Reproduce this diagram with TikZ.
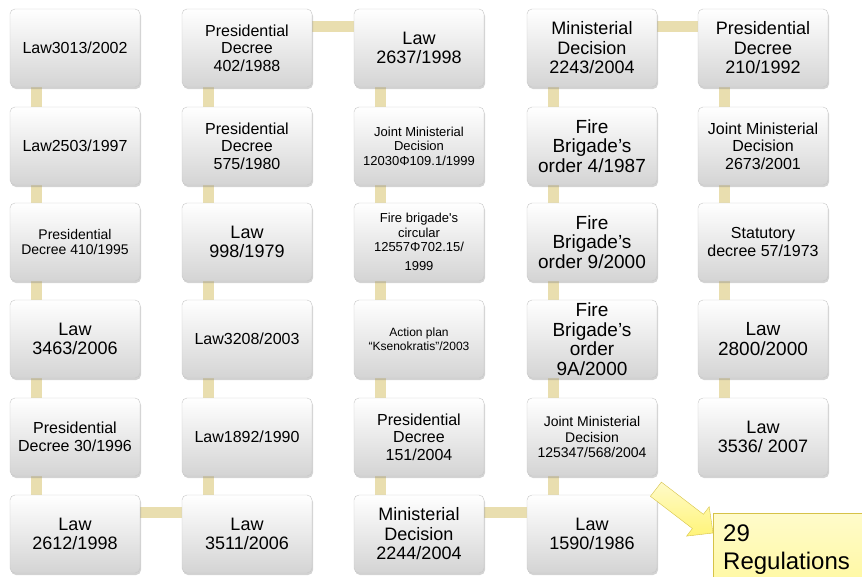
\documentclass[tikz,border=0pt]{standalone}
\usepackage{fontspec}
\setmainfont{Liberation Sans}
\usepackage{tikz}
\tikzset{>=latex}
\usetikzlibrary{calc,shadows,backgrounds}

\definecolor{linktan}{RGB}{233,222,175}
\definecolor{boxgray}{RGB}{212,212,212}
\definecolor{regyellow}{RGB}{255,248,160}
\definecolor{arrowyellow}{RGB}{255,244,120}
\definecolor{regedge}{RGB}{214,194,72}

\tikzset{
  regbox/.style={rectangle, rounded corners=5pt, draw=black!22, top color=white, bottom color=boxgray,
    minimum width=130pt, minimum height=78pt, inner sep=2pt, align=center,
    drop shadow={shadow xshift=1pt, shadow yshift=-2pt, opacity=0.35}},
  link/.style={draw=linktan, line width=11pt},
  regnote/.style={rectangle, draw=regedge, top color=regyellow!55!white, bottom color=regyellow,
    text width=150pt, inner xsep=10pt, inner ysep=12pt, align=left, font=\fontsize{24}{28}\selectfont},
  regarrow/.style={draw=regedge, line join=miter, top color=arrowyellow!40!white, bottom color=arrowyellow},
  f12/.style={font=\fontsize{12}{13.5}\selectfont},
  f13/.style={font=\fontsize{13}{14.5}\selectfont},
  f14/.style={font=\fontsize{14}{15.5}\selectfont},
  f16/.style={font=\fontsize{16}{17.5}\selectfont},
  f18/.style={font=\fontsize{18}{19.5}\selectfont},
  f19/.style={font=\fontsize{19}{19.5}\selectfont}
}

\begin{document}
\begin{tikzpicture}[x=1pt,y=-1pt]
  \useasboundingbox (0,0) rectangle (862,576);
  \clip (0,0) rectangle (862,576);

  % first column
  \node[regbox,f16] (c1r1) at (75,48) {Law3013/2002};
  \node[regbox,f16] (c1r2) at (75,146) {Law2503/1997};
  \node[regbox,f14] (c1r3) at (75,242) {Presidential\\Decree 410/1995};
  \node[regbox,f18] (c1r4) at (75,339) {Law\\3463/2006};
  \node[regbox,f16] (c1r5) at (75,437) {Presidential\\Decree 30/1996};
  \node[regbox,f18] (c1r6) at (75,534) {Law\\2612/1998};

  % second column
  \node[regbox,f16] (c2r1) at (247,48) {Presidential\\Decree\\402/1988};
  \node[regbox,f16] (c2r2) at (247,146) {Presidential\\Decree\\575/1980};
  \node[regbox,f18] (c2r3) at (247,242) {Law\\998/1979};
  \node[regbox,f16] (c2r4) at (247,339) {Law3208/2003};
  \node[regbox,f16] (c2r5) at (247,437) {Law1892/1990};
  \node[regbox,f18] (c2r6) at (247,534) {Law\\3511/2006};

  % third column
  \node[regbox,f18] (c3r1) at (419,48) {Law\\2637/1998};
  \node[regbox,f13] (c3r2) at (419,146) {Joint Ministerial\\Decision\\12030Φ109.1/1999};
  \node[regbox,f13] (c3r3) at (419,242) {Fire brigade\textquotesingle s\\circular\\12557Φ702.15/\\[4pt]1999};
  \node[regbox,f12] (c3r4) at (419,339) {Action plan\\“Ksenokratis”/2003};
  \node[regbox,f16] (c3r5) at (419,437) {Presidential\\Decree\\151/2004};
  \node[regbox,f18] (c3r6) at (419,534) {Ministerial\\Decision\\2244/2004};

  % fourth column
  \node[regbox,f18] (c4r1) at (592,48) {Ministerial\\Decision\\2243/2004};
  \node[regbox,f19] (c4r2) at (592,146) {Fire\\Brigade’s\\order 4/1987};
  \node[regbox,f19] (c4r3) at (592,242) {Fire\\Brigade’s\\order 9/2000};
  \node[regbox,f19] (c4r4) at (592,339) {Fire\\Brigade’s\\order\\9A/2000};
  \node[regbox,f14] (c4r5) at (592,437) {Joint Ministerial\\Decision\\125347/568/2004};
  \node[regbox,f18] (c4r6) at (592,534) {Law\\1590/1986};

  % fifth column
  \node[regbox,f18] (c5r1) at (763,48) {Presidential\\Decree\\210/1992};
  \node[regbox,f16] (c5r2) at (763,146) {Joint Ministerial\\Decision\\2673/2001};
  \node[regbox,f16] (c5r3) at (763,242) {Statutory\\decree 57/1973};
  \node[regbox,f19] (c5r4) at (763,339) {Law\\2800/2000};
  \node[regbox,f18] (c5r5) at (763,437) {Law\\3536/ 2007};

  \begin{scope}[on background layer]
    \foreach \col/\last in {1/5,2/5,3/5,4/5,5/4}
    \foreach \row in {1,...,\last}
    {
    \pgfmathtruncatemacro{\nxt}{\row+1}
    \draw[link] ([xshift=27pt]c\col r\row.south west) -- ([xshift=27pt]c\col r\nxt.north west);
    }
    \draw[link] ([yshift=-18pt]c1r6.north east) -- ([yshift=-18pt]c2r6.north west);
    \draw[link] ([yshift=-18pt]c2r1.north east) -- ([yshift=-18pt]c3r1.north west);
    \draw[link] ([yshift=-18pt]c3r6.north east) -- ([yshift=-18pt]c4r6.north west);
    \draw[link] ([yshift=-18pt]c4r1.north east) -- ([yshift=-18pt]c5r1.north west);
  \end{scope}

  % total
  \node[regnote, anchor=north west] (regs) at (713,513) {29\\Regulations};
  \draw[regarrow] (661.4,482.1) -- (703.4,514.3) -- (709.2,506.7) -- (713,533)
    -- (686.6,536.1) -- (692.4,528.5) -- (650.4,496.3) -- cycle;
\end{tikzpicture}
\end{document}
